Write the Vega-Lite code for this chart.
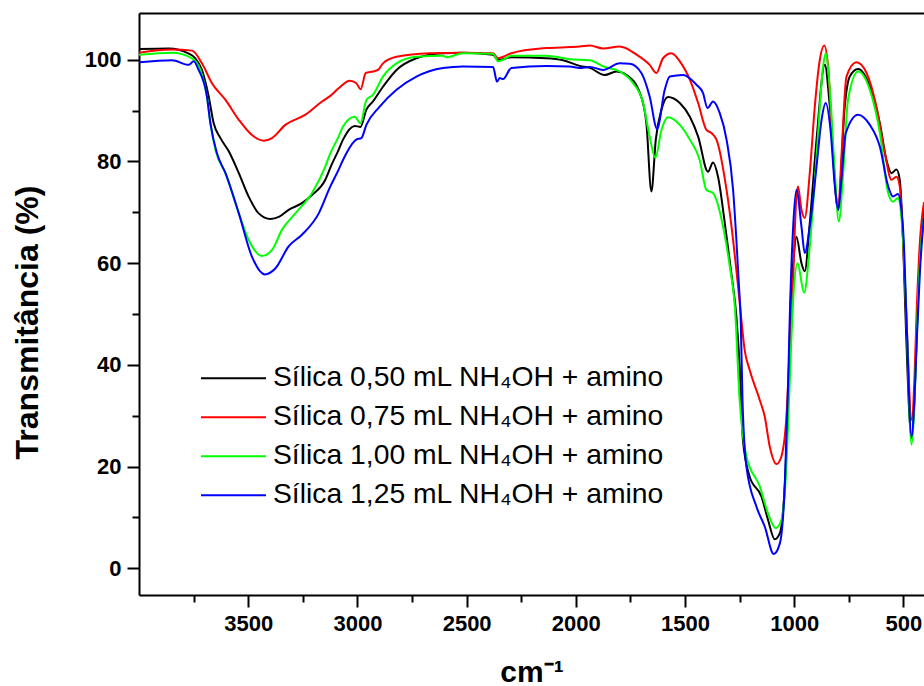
{
"$schema": "https://vega.github.io/schema/vega-lite/v6.json",
"width": 785, "height": 582,
"autosize": {"type": "none"},
"padding": {"left": 139, "top": 13, "right": 0, "bottom": 91},
"background": "white",
"config": {"view": {"stroke": null}, "font": "Liberation Sans"},
"datasets": {
"spectra": [
{"s":"0,50","x":4000,"y":102.1},{"s":"0,50","x":3864,"y":102.2},{"s":"0,50","x":3772,"y":101.2},{"s":"0,50","x":3742,"y":100.3},{"s":"0,50","x":3712,"y":98.0},{"s":"0,50","x":3681,"y":92.8},{"s":"0,50","x":3658,"y":87.5},{"s":"0,50","x":3627,"y":84.6},{"s":"0,50","x":3589,"y":82.0},{"s":"0,50","x":3543,"y":77.7},{"s":"0,50","x":3498,"y":73.1},{"s":"0,50","x":3452,"y":69.8},{"s":"0,50","x":3398,"y":68.7},{"s":"0,50","x":3360,"y":69.1},{"s":"0,50","x":3315,"y":70.5},{"s":"0,50","x":3254,"y":71.8},{"s":"0,50","x":3208,"y":73.4},{"s":"0,50","x":3147,"y":76.4},{"s":"0,50","x":3120,"y":79.2},{"s":"0,50","x":3086,"y":82.3},{"s":"0,50","x":3066,"y":84.3},{"s":"0,50","x":3012,"y":87.0},{"s":"0,50","x":2986,"y":86.8},{"s":"0,50","x":2959,"y":90.2},{"s":"0,50","x":2929,"y":91.8},{"s":"0,50","x":2883,"y":94.7},{"s":"0,50","x":2821,"y":98.0},{"s":"0,50","x":2730,"y":100.3},{"s":"0,50","x":2608,"y":101.3},{"s":"0,50","x":2516,"y":101.4},{"s":"0,50","x":2379,"y":101.0},{"s":"0,50","x":2356,"y":99.9},{"s":"0,50","x":2295,"y":100.5},{"s":"0,50","x":2135,"y":100.3},{"s":"0,50","x":2059,"y":99.9},{"s":"0,50","x":1982,"y":98.8},{"s":"0,50","x":1936,"y":98.4},{"s":"0,50","x":1868,"y":97.0},{"s":"0,50","x":1814,"y":97.7},{"s":"0,50","x":1768,"y":97.0},{"s":"0,50","x":1707,"y":93.5},{"s":"0,50","x":1677,"y":87.5},{"s":"0,50","x":1654,"y":74.1},{"s":"0,50","x":1634,"y":84.3},{"s":"0,50","x":1608,"y":90.2},{"s":"0,50","x":1578,"y":92.7},{"s":"0,50","x":1524,"y":91.5},{"s":"0,50","x":1478,"y":88.8},{"s":"0,50","x":1440,"y":84.9},{"s":"0,50","x":1395,"y":78.0},{"s":"0,50","x":1372,"y":79.8},{"s":"0,50","x":1349,"y":77.0},{"s":"0,50","x":1318,"y":67.9},{"s":"0,50","x":1288,"y":58.0},{"s":"0,50","x":1265,"y":49.5},{"s":"0,50","x":1250,"y":39.7},{"s":"0,50","x":1235,"y":25.2},{"s":"0,50","x":1204,"y":18.0},{"s":"0,50","x":1150,"y":14.1},{"s":"0,50","x":1120,"y":9.5},{"s":"0,50","x":1089,"y":5.7},{"s":"0,50","x":1066,"y":6.9},{"s":"0,50","x":1043,"y":16.7},{"s":"0,50","x":1028,"y":33.1},{"s":"0,50","x":1016,"y":52.8},{"s":"0,50","x":1003,"y":61.0},{"s":"0,50","x":990,"y":65.2},{"s":"0,50","x":967,"y":60.0},{"s":"0,50","x":952,"y":58.4},{"s":"0,50","x":929,"y":67.9},{"s":"0,50","x":898,"y":84.3},{"s":"0,50","x":860,"y":99.0},{"s":"0,50","x":837,"y":90.8},{"s":"0,50","x":799,"y":70.5},{"s":"0,50","x":769,"y":90.8},{"s":"0,50","x":746,"y":96.7},{"s":"0,50","x":708,"y":98.2},{"s":"0,50","x":654,"y":94.8},{"s":"0,50","x":608,"y":87.5},{"s":"0,50","x":578,"y":80.3},{"s":"0,50","x":555,"y":77.7},{"s":"0,50","x":532,"y":78.4},{"s":"0,50","x":517,"y":76.4},{"s":"0,50","x":502,"y":64.6},{"s":"0,50","x":490,"y":48.8},{"s":"0,50","x":463,"y":25.6},{"s":"0,50","x":450,"y":33.0},{"s":"0,50","x":440,"y":45.0},{"s":"0,50","x":425,"y":62.0},{"s":"0,50","x":406,"y":71.0},

{"s":"0,75","x":4000,"y":101.4},{"s":"0,75","x":3849,"y":102.0},{"s":"0,75","x":3757,"y":101.8},{"s":"0,75","x":3712,"y":99.3},{"s":"0,75","x":3666,"y":95.4},{"s":"0,75","x":3604,"y":92.1},{"s":"0,75","x":3543,"y":88.2},{"s":"0,75","x":3483,"y":85.2},{"s":"0,75","x":3429,"y":84.1},{"s":"0,75","x":3391,"y":84.6},{"s":"0,75","x":3330,"y":87.2},{"s":"0,75","x":3238,"y":89.2},{"s":"0,75","x":3162,"y":91.8},{"s":"0,75","x":3127,"y":92.8},{"s":"0,75","x":3086,"y":94.4},{"s":"0,75","x":3035,"y":95.9},{"s":"0,75","x":3005,"y":95.4},{"s":"0,75","x":2985,"y":94.2},{"s":"0,75","x":2962,"y":97.4},{"s":"0,75","x":2929,"y":97.7},{"s":"0,75","x":2906,"y":98.0},{"s":"0,75","x":2883,"y":99.3},{"s":"0,75","x":2821,"y":100.6},{"s":"0,75","x":2669,"y":101.3},{"s":"0,75","x":2516,"y":101.4},{"s":"0,75","x":2379,"y":101.3},{"s":"0,75","x":2356,"y":100.3},{"s":"0,75","x":2333,"y":100.6},{"s":"0,75","x":2295,"y":101.3},{"s":"0,75","x":2135,"y":102.3},{"s":"0,75","x":2028,"y":102.5},{"s":"0,75","x":1982,"y":102.6},{"s":"0,75","x":1936,"y":102.8},{"s":"0,75","x":1875,"y":102.2},{"s":"0,75","x":1799,"y":102.6},{"s":"0,75","x":1722,"y":101.0},{"s":"0,75","x":1662,"y":99.0},{"s":"0,75","x":1631,"y":97.4},{"s":"0,75","x":1601,"y":100.3},{"s":"0,75","x":1562,"y":101.3},{"s":"0,75","x":1524,"y":99.7},{"s":"0,75","x":1478,"y":96.1},{"s":"0,75","x":1440,"y":91.5},{"s":"0,75","x":1402,"y":86.2},{"s":"0,75","x":1379,"y":85.6},{"s":"0,75","x":1356,"y":84.3},{"s":"0,75","x":1310,"y":74.4},{"s":"0,75","x":1280,"y":64.6},{"s":"0,75","x":1257,"y":55.4},{"s":"0,75","x":1242,"y":48.8},{"s":"0,75","x":1227,"y":42.9},{"s":"0,75","x":1204,"y":39.0},{"s":"0,75","x":1158,"y":33.1},{"s":"0,75","x":1135,"y":29.8},{"s":"0,75","x":1112,"y":23.9},{"s":"0,75","x":1081,"y":20.5},{"s":"0,75","x":1059,"y":22.0},{"s":"0,75","x":1036,"y":29.8},{"s":"0,75","x":1021,"y":42.9},{"s":"0,75","x":1008,"y":52.8},{"s":"0,75","x":998,"y":66.0},{"s":"0,75","x":993,"y":71.1},{"s":"0,75","x":983,"y":75.1},{"s":"0,75","x":967,"y":70.5},{"s":"0,75","x":952,"y":68.9},{"s":"0,75","x":929,"y":77.7},{"s":"0,75","x":906,"y":90.8},{"s":"0,75","x":883,"y":100.0},{"s":"0,75","x":863,"y":102.8},{"s":"0,75","x":845,"y":98.7},{"s":"0,75","x":822,"y":81.0},{"s":"0,75","x":799,"y":70.5},{"s":"0,75","x":784,"y":81.0},{"s":"0,75","x":761,"y":96.7},{"s":"0,75","x":715,"y":99.5},{"s":"0,75","x":669,"y":97.4},{"s":"0,75","x":624,"y":90.8},{"s":"0,75","x":585,"y":81.6},{"s":"0,75","x":555,"y":76.4},{"s":"0,75","x":532,"y":77.0},{"s":"0,75","x":517,"y":75.1},{"s":"0,75","x":502,"y":64.6},{"s":"0,75","x":486,"y":48.8},{"s":"0,75","x":463,"y":29.2},{"s":"0,75","x":450,"y":37.0},{"s":"0,75","x":440,"y":50.0},{"s":"0,75","x":425,"y":64.0},{"s":"0,75","x":406,"y":72.0},

{"s":"1,00","x":4000,"y":101.0},{"s":"1,00","x":3849,"y":101.4},{"s":"1,00","x":3757,"y":100.3},{"s":"1,00","x":3719,"y":98.0},{"s":"1,00","x":3689,"y":92.8},{"s":"1,00","x":3673,"y":87.5},{"s":"1,00","x":3650,"y":82.3},{"s":"1,00","x":3604,"y":77.7},{"s":"1,00","x":3543,"y":69.8},{"s":"1,00","x":3498,"y":64.6},{"s":"1,00","x":3437,"y":61.4},{"s":"1,00","x":3391,"y":62.6},{"s":"1,00","x":3345,"y":66.6},{"s":"1,00","x":3284,"y":69.8},{"s":"1,00","x":3208,"y":73.8},{"s":"1,00","x":3147,"y":79.0},{"s":"1,00","x":3127,"y":81.3},{"s":"1,00","x":3086,"y":84.9},{"s":"1,00","x":3066,"y":86.9},{"s":"1,00","x":3012,"y":88.8},{"s":"1,00","x":2986,"y":87.5},{"s":"1,00","x":2959,"y":92.1},{"s":"1,00","x":2929,"y":93.1},{"s":"1,00","x":2883,"y":96.7},{"s":"1,00","x":2821,"y":99.3},{"s":"1,00","x":2730,"y":100.6},{"s":"1,00","x":2608,"y":100.8},{"s":"1,00","x":2592,"y":100.5},{"s":"1,00","x":2516,"y":101.3},{"s":"1,00","x":2379,"y":101.2},{"s":"1,00","x":2356,"y":99.7},{"s":"1,00","x":2333,"y":100.0},{"s":"1,00","x":2295,"y":100.8},{"s":"1,00","x":2135,"y":100.8},{"s":"1,00","x":2028,"y":100.1},{"s":"1,00","x":1936,"y":99.9},{"s":"1,00","x":1875,"y":98.7},{"s":"1,00","x":1799,"y":97.7},{"s":"1,00","x":1738,"y":95.4},{"s":"1,00","x":1692,"y":91.5},{"s":"1,00","x":1662,"y":84.9},{"s":"1,00","x":1636,"y":80.7},{"s":"1,00","x":1608,"y":86.2},{"s":"1,00","x":1578,"y":88.7},{"s":"1,00","x":1524,"y":87.2},{"s":"1,00","x":1478,"y":84.3},{"s":"1,00","x":1433,"y":80.3},{"s":"1,00","x":1402,"y":74.4},{"s":"1,00","x":1372,"y":73.8},{"s":"1,00","x":1326,"y":67.2},{"s":"1,00","x":1295,"y":59.3},{"s":"1,00","x":1272,"y":51.5},{"s":"1,00","x":1250,"y":33.1},{"s":"1,00","x":1219,"y":22.0},{"s":"1,00","x":1158,"y":16.1},{"s":"1,00","x":1120,"y":10.8},{"s":"1,00","x":1085,"y":7.9},{"s":"1,00","x":1059,"y":9.5},{"s":"1,00","x":1036,"y":20.0},{"s":"1,00","x":1021,"y":36.4},{"s":"1,00","x":1005,"y":52.8},{"s":"1,00","x":985,"y":60.0},{"s":"1,00","x":955,"y":54.2},{"s":"1,00","x":929,"y":63.3},{"s":"1,00","x":898,"y":81.0},{"s":"1,00","x":868,"y":98.7},{"s":"1,00","x":856,"y":101.3},{"s":"1,00","x":837,"y":94.1},{"s":"1,00","x":814,"y":77.7},{"s":"1,00","x":796,"y":68.2},{"s":"1,00","x":776,"y":77.7},{"s":"1,00","x":754,"y":92.1},{"s":"1,00","x":708,"y":97.7},{"s":"1,00","x":654,"y":94.1},{"s":"1,00","x":608,"y":85.6},{"s":"1,00","x":570,"y":73.8},{"s":"1,00","x":548,"y":72.1},{"s":"1,00","x":525,"y":72.8},{"s":"1,00","x":511,"y":69.8},{"s":"1,00","x":494,"y":58.0},{"s":"1,00","x":486,"y":48.8},{"s":"1,00","x":463,"y":24.3},{"s":"1,00","x":450,"y":32.0},{"s":"1,00","x":440,"y":45.0},{"s":"1,00","x":425,"y":60.0},{"s":"1,00","x":406,"y":69.0},

{"s":"1,25","x":4000,"y":99.5},{"s":"1,25","x":3849,"y":99.9},{"s":"1,25","x":3772,"y":99.0},{"s":"1,25","x":3750,"y":99.7},{"s":"1,25","x":3727,"y":98.0},{"s":"1,25","x":3689,"y":92.8},{"s":"1,25","x":3673,"y":87.5},{"s":"1,25","x":3643,"y":81.6},{"s":"1,25","x":3604,"y":77.7},{"s":"1,25","x":3543,"y":69.8},{"s":"1,25","x":3483,"y":61.3},{"s":"1,25","x":3424,"y":57.8},{"s":"1,25","x":3375,"y":59.0},{"s":"1,25","x":3315,"y":63.3},{"s":"1,25","x":3254,"y":65.6},{"s":"1,25","x":3177,"y":69.8},{"s":"1,25","x":3127,"y":74.8},{"s":"1,25","x":3086,"y":78.4},{"s":"1,25","x":3066,"y":80.3},{"s":"1,25","x":3005,"y":84.3},{"s":"1,25","x":2982,"y":84.6},{"s":"1,25","x":2959,"y":87.2},{"s":"1,25","x":2898,"y":90.8},{"s":"1,25","x":2821,"y":94.1},{"s":"1,25","x":2730,"y":96.7},{"s":"1,25","x":2608,"y":98.4},{"s":"1,25","x":2516,"y":98.7},{"s":"1,25","x":2379,"y":98.6},{"s":"1,25","x":2361,"y":95.7},{"s":"1,25","x":2348,"y":96.4},{"s":"1,25","x":2333,"y":96.2},{"s":"1,25","x":2295,"y":98.4},{"s":"1,25","x":2135,"y":98.8},{"s":"1,25","x":2028,"y":98.7},{"s":"1,25","x":1982,"y":98.4},{"s":"1,25","x":1936,"y":98.6},{"s":"1,25","x":1875,"y":98.0},{"s":"1,25","x":1799,"y":99.3},{"s":"1,25","x":1753,"y":99.2},{"s":"1,25","x":1700,"y":97.4},{"s":"1,25","x":1662,"y":92.8},{"s":"1,25","x":1628,"y":86.4},{"s":"1,25","x":1593,"y":94.1},{"s":"1,25","x":1570,"y":96.7},{"s":"1,25","x":1509,"y":97.0},{"s":"1,25","x":1448,"y":95.1},{"s":"1,25","x":1418,"y":93.5},{"s":"1,25","x":1397,"y":90.5},{"s":"1,25","x":1372,"y":91.8},{"s":"1,25","x":1341,"y":89.5},{"s":"1,25","x":1310,"y":84.3},{"s":"1,25","x":1280,"y":74.4},{"s":"1,25","x":1265,"y":64.6},{"s":"1,25","x":1253,"y":55.4},{"s":"1,25","x":1245,"y":48.8},{"s":"1,25","x":1237,"y":33.1},{"s":"1,25","x":1219,"y":20.0},{"s":"1,25","x":1173,"y":12.1},{"s":"1,25","x":1135,"y":8.2},{"s":"1,25","x":1094,"y":2.8},{"s":"1,25","x":1066,"y":4.9},{"s":"1,25","x":1043,"y":16.7},{"s":"1,25","x":1028,"y":36.4},{"s":"1,25","x":1021,"y":48.8},{"s":"1,25","x":1005,"y":67.2},{"s":"1,25","x":990,"y":74.4},{"s":"1,25","x":967,"y":67.2},{"s":"1,25","x":952,"y":62.0},{"s":"1,25","x":929,"y":67.2},{"s":"1,25","x":898,"y":79.0},{"s":"1,25","x":875,"y":88.2},{"s":"1,25","x":856,"y":91.5},{"s":"1,25","x":834,"y":86.2},{"s":"1,25","x":814,"y":75.1},{"s":"1,25","x":799,"y":70.5},{"s":"1,25","x":784,"y":76.4},{"s":"1,25","x":764,"y":85.6},{"s":"1,25","x":708,"y":89.2},{"s":"1,25","x":654,"y":87.2},{"s":"1,25","x":608,"y":82.9},{"s":"1,25","x":570,"y":75.1},{"s":"1,25","x":548,"y":73.1},{"s":"1,25","x":525,"y":73.6},{"s":"1,25","x":511,"y":71.1},{"s":"1,25","x":499,"y":64.6},{"s":"1,25","x":486,"y":48.8},{"s":"1,25","x":463,"y":25.9},{"s":"1,25","x":450,"y":33.0},{"s":"1,25","x":439,"y":45.0},{"s":"1,25","x":425,"y":58.0},{"s":"1,25","x":410,"y":67.2},{"s":"1,25","x":406,"y":69.0}
]
},
"data": {"name": "spectra"},
"layer": [
{
"mark": {"type": "line", "strokeWidth": 2, "clip": true, "interpolate": "monotone"},
"encoding": {
"x": {"field": "x", "type": "quantitative",
"scale": {"domain": [406, 4000], "reverse": true, "nice": false, "zero": false},
"axis": {"orient": "bottom", "values": [3750,3500,3250,3000,2750,2500,2250,2000,1750,1500,1250,1000,750,500],
"format": "d", "labelExpr": "datum.value % 500 === 0 ? datum.label : ''",
"tickSize": {"condition": {"test": "datum.value % 500 === 0", "value": 12}, "value": 7},
"tickWidth": 2, "tickColor": "black", "domainWidth": 2, "domainColor": "black", "grid": false,
"labelFont": "Liberation Sans", "labelFontWeight": "bold", "labelFontSize": 22, "labelColor": "black",
"labelPadding": 6, "labelFlush": false, "labelOverlap": false,
"title": "cm⁻¹", "titleFont": "Liberation Sans", "titleFontWeight": "bold", "titleFontSize": 30, "titleColor": "black",
"titleX": 392.5, "titleY": 86, "titleBaseline": "alphabetic", "titleAlign": "center"}},
"y": {"field": "y", "type": "quantitative",
"scale": {"domain": [-5.25, 109.2], "nice": false, "zero": false},
"axis": {"orient": "left", "values": [0,10,20,30,40,50,60,70,80,90,100],
"labelExpr": "datum.value % 20 === 0 ? datum.label : ''",
"tickSize": {"condition": {"test": "datum.value % 20 === 0", "value": 12}, "value": 7},
"tickWidth": 2, "tickColor": "black", "domainWidth": 2, "domainColor": "black", "grid": false,
"labelFont": "Liberation Sans", "labelFontWeight": "bold", "labelFontSize": 22, "labelColor": "black",
"labelPadding": 6, "labelFlush": false, "labelOverlap": false,
"title": "Transmitância (%)", "titleFont": "Liberation Sans", "titleFontWeight": "bold", "titleFontSize": 32, "titleColor": "black",
"titleX": -102, "titleY": 309, "titleBaseline": "alphabetic", "titleAlign": "center", "titleAngle": -90}},
"color": {"field": "s", "type": "nominal",
"scale": {"domain": ["0,50","0,75","1,00","1,25"], "range": ["#000000","#ff0000","#00ff00","#0000ff"]},
"legend": {"orient": "none", "legendX": 61, "legendY": 346, "title": null, "padding": 0,
"symbolType": "stroke", "symbolSize": 4225, "symbolStrokeWidth": 2, "clipHeight": 38.5, "rowPadding": 0,
"labelFont": "Liberation Sans", "labelFontSize": 28.3, "labelColor": "black", "labelOffset": 6, "labelLimit": 0,
"labelExpr": "'Sílica ' + datum.label + ' mL NH₄OH + amino'"}},
"order": {"field": "x", "sort": "descending"}
}
},
{
"mark": {"type": "line", "strokeOpacity": 0},
"encoding": {
"x": {"field": "x", "type": "quantitative",
"axis": {"orient": "top", "ticks": false, "labels": false, "title": null, "grid": false, "domainWidth": 2, "domainColor": "black"}},
"y": {"field": "y", "type": "quantitative", "axis": null}
}
}
],
"resolve": {"axis": {"x": "independent", "y": "independent"}}
}
